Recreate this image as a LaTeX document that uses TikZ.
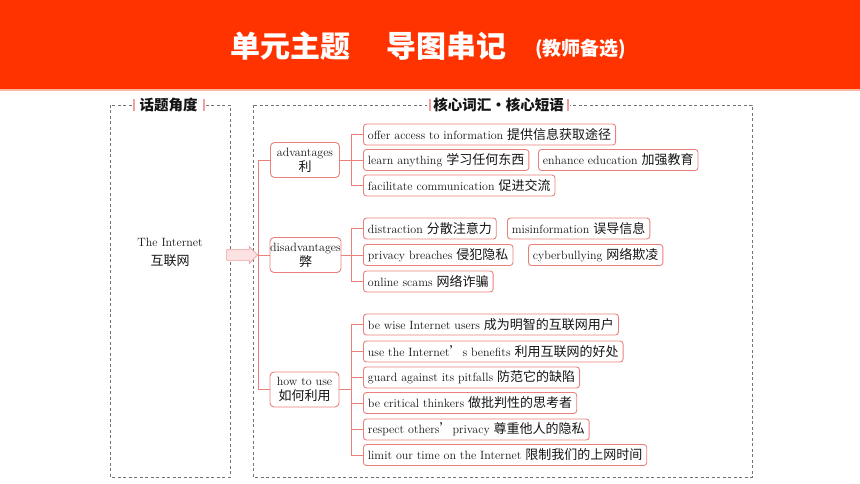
\documentclass[tikz,border=0pt]{standalone}
\usepackage{fontspec}
\newfontfamily\cjk{Noto Sans CJK SC}
\usetikzlibrary{shapes.arrows}
\definecolor{bandred}{RGB}{255,51,0}
\definecolor{bandline}{RGB}{250,185,165}
\definecolor{linec}{RGB}{234,128,122}
\definecolor{barpink}{RGB}{240,160,160}
\definecolor{arrfill}{RGB}{252,226,226}
\definecolor{dashc}{RGB}{115,115,115}
\definecolor{txt}{RGB}{20,20,20}
\newcommand\zh[1]{{\cjk\fontsize{13}{15}\selectfont #1}}
\begin{document}
\begin{tikzpicture}[x=1pt,y=-1pt,
 leaf/.style={draw=linec, line width=0.9pt, rounded corners=3pt, minimum height=21pt, inner xsep=4.5pt, inner ysep=0pt, anchor=west, font=\fontsize{12}{14}\selectfont, text=txt},
 mainbox/.style={draw=linec, line width=0.9pt, rounded corners=4pt, minimum width=69pt, minimum height=35pt, inner sep=1pt, align=center, font=\fontsize{12}{15}\selectfont, text=txt},
 conn/.style={draw=linec, line width=0.9pt},
 dashbox/.style={draw=dashc, line width=0.6pt, dash pattern=on 3pt off 2.5pt},
 headlab/.style={fill=white, inner ysep=2pt, font=\cjk\bfseries\fontsize{14.5}{16}\selectfont, text=txt},
 pinkbar/.style={fill=barpink, minimum width=2.5pt, minimum height=12pt, inner sep=0pt},
 titlefont/.style={inner sep=0pt, text=white, anchor=west},
 ]
\useasboundingbox (0,0) rectangle (860,484);
% header band
\fill[bandred] (0,0) rectangle (860,89);
\fill[bandline] (0,89) rectangle (860,91);
\node[titlefont, font=\cjk\bfseries\fontsize{30}{32}\selectfont] (t1) at (230,46) {单元主题};
\node[titlefont, font=\cjk\bfseries\fontsize{30}{32}\selectfont] (t2) at (386,46) {导图串记};
\node[titlefont, font=\cjk\bfseries\fontsize{19}{21}\selectfont] (t3) at (535,49) {(教师备选)};
% dashed frames
\draw[dashbox] (110,105) rectangle (230,477);
\draw[dashbox] (253,105) rectangle (752,477);
\node[headlab, inner xsep=7pt] (lab1) at (168.5,104.5) {话题角度};
\node[pinkbar] (b1) at (134,105.5) {};
\node[pinkbar] (b2) at (204,105.5) {};
\node[headlab, inner xsep=6pt] (lab2) at (498.5,104.5) {核心词汇・核心短语};
\node[pinkbar] (b3) at (430,105.5) {};
\node[pinkbar] (b4) at (568,105.5) {};
% topic
\node[align=center, text=txt, font=\fontsize{12}{19}\selectfont] (topic) at (170,252) {The Internet\\\zh{互联网}};
% main nodes
\node[mainbox] (adv) at (305,160) {advantages\\\zh{利}};
\node[mainbox, minimum width=71pt, inner xsep=0pt] (dis) at (305.5,255) {disadvantages\\\zh{弊}};
\node[mainbox] (how) at (304.5,389.5) {how to use\\\zh{如何利用}};
% leaves
\node[leaf] (a1) at (363,134.5) {offer access to information \zh{提供信息获取途径}};
\node[leaf] (a2) at (363,160) {learn anything \zh{学习任何东西}};
\node[leaf] (a4) at (538,160) {enhance education \zh{加强教育}};
\node[leaf] (a3) at (363,185.5) {facilitate communication \zh{促进交流}};
\node[leaf] (d1) at (363,228.5) {distraction \zh{分散注意力}};
\node[leaf] (d2) at (507,228.5) {misinformation \zh{误导信息}};
\node[leaf] (d3) at (363,255) {privacy breaches \zh{侵犯隐私}};
\node[leaf] (d4) at (528,255) {cyberbullying \zh{网络欺凌}};
\node[leaf] (d5) at (363,281.5) {online scams \zh{网络诈骗}};
\node[leaf] (h1) at (363,324.5) {be wise Internet users \zh{成为明智的互联网用户}};
\node[leaf] (h2) at (363,351.5) {use the Internet\zh{’}s benefits \zh{利用互联网的好处}};
\node[leaf] (h3) at (363,377.5) {guard against its pitfalls \zh{防范它的缺陷}};
\node[leaf] (h4) at (363,403) {be critical thinkers \zh{做批判性的思考者}};
\node[leaf] (h5) at (363,429.5) {respect others\zh{’}privacy \zh{尊重他人的隐私}};
\node[leaf] (h6) at (363,455) {limit our time on the Internet \zh{限制我们的上网时间}};
% connectors
\coordinate (tr) at (258,0);
\coordinate (br) at (351,0);
\draw[conn] (adv.west) -- (adv.west -| tr) -- (how.west -| tr) -- (how.west);
\draw[conn] (dis.west) -- (dis.west -| tr);
\draw[conn] (adv.east) -- (adv.east -| br);
\draw[conn] (a1.west) -- (a1.west -| br) -- (a3.west -| br) -- (a3.west);
\draw[conn] (a2.west) -- (a2.west -| br);
\draw[conn] (dis.east) -- (dis.east -| br);
\draw[conn] (d1.west) -- (d1.west -| br) -- (d5.west -| br) -- (d5.west);
\draw[conn] (d3.west) -- (d3.west -| br);
\draw[conn] (how.east) -- (how.east -| br);
\draw[conn] (h1.west) -- (h1.west -| br) -- (h6.west -| br) -- (h6.west);
\draw[conn] (h2.west) -- (h2.west -| br);
\draw[conn] (h3.west) -- (h3.west -| br);
\draw[conn] (h4.west) -- (h4.west -| br);
\draw[conn] (h5.west) -- (h5.west -| br);
% arrow
\node[single arrow, draw=barpink, fill=arrfill, line width=0.6pt, minimum height=31pt, minimum width=16pt, inner xsep=0pt, inner ysep=5pt, single arrow head extend=3pt, anchor=tip] (arr) at (dis.west -| tr) {};
\end{tikzpicture}
\end{document}
